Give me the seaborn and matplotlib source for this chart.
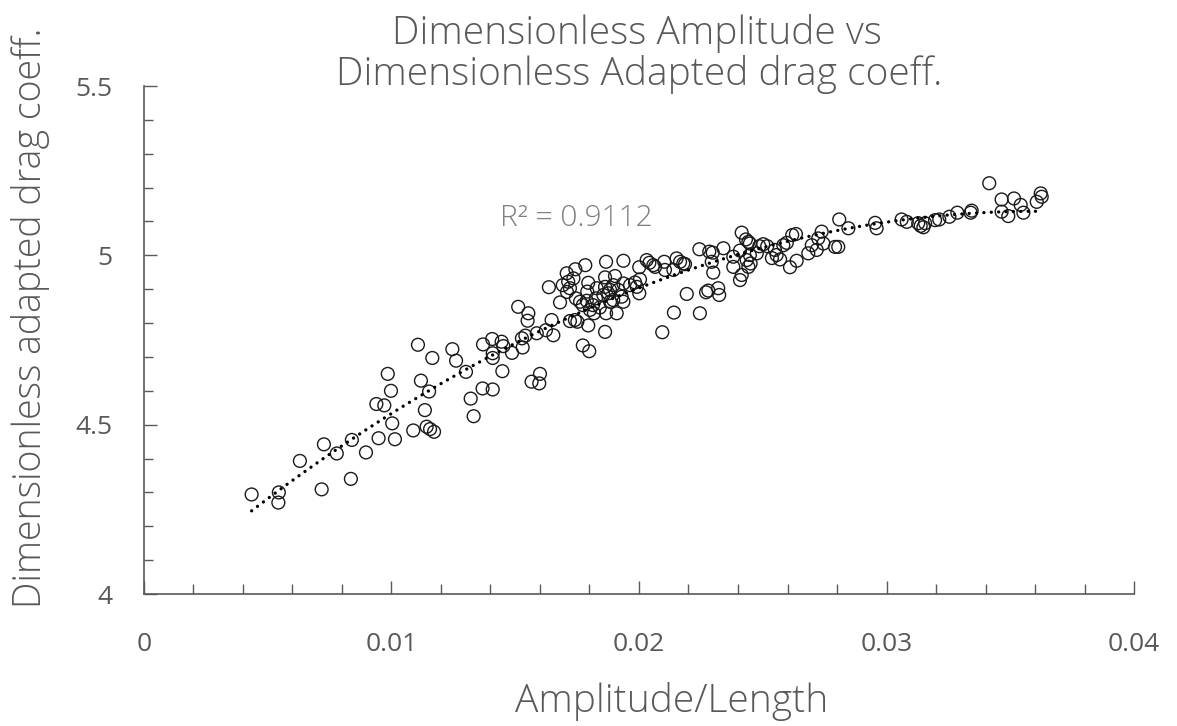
import numpy as np
import pandas as pd
import matplotlib
matplotlib.use("Agg")
import matplotlib.pyplot as plt
from matplotlib.ticker import MultipleLocator, FixedLocator
import seaborn as sns

# Amplitude/Length (dimensionless)
amp_len = [
    0.00435, 0.00545, 0.00543, 0.00630, 0.00718, 0.00727, 0.00779, 0.00836, 0.00840, 0.00897,
    0.00939, 0.00971, 0.00985, 0.00998, 0.00948, 0.01014, 0.01003, 0.01088, 0.01135, 0.01119,
    0.01152, 0.01107, 0.01165, 0.01142, 0.01156, 0.01172, 0.01246, 0.01261, 0.01301, 0.01320,
    0.01332, 0.01368, 0.01409, 0.01370, 0.01407, 0.01409, 0.01409, 0.01445, 0.01452, 0.01487,
    0.01448, 0.01512, 0.01553, 0.01550, 0.01527, 0.01541, 0.01530, 0.01587, 0.01624, 0.01647,
    0.01654, 0.01566, 0.01600, 0.01597, 0.01636, 0.01681, 0.01692, 0.01714, 0.01735, 0.01708,
    0.01721, 0.01741, 0.01751, 0.01762, 0.01773, 0.01789, 0.01795, 0.01791, 0.01795, 0.01773,
    0.01799, 0.01818, 0.01842, 0.01829, 0.01863, 0.01863, 0.01856, 0.01883, 0.01896, 0.01903,
    0.01910, 0.01743, 0.01783, 0.01721, 0.01709, 0.01745, 0.01802, 0.01826, 0.01814, 0.01867,
    0.01863, 0.01876, 0.01883, 0.01896, 0.01867, 0.01937, 0.01937, 0.01964, 0.01916, 0.01930,
    0.01937, 0.01984, 0.02004, 0.01991, 0.02001, 0.02001, 0.02031, 0.02042, 0.02058, 0.02065,
    0.02102, 0.02105, 0.02139, 0.02152, 0.02166, 0.02193, 0.02141, 0.02246, 0.02094, 0.02179,
    0.02244, 0.02186, 0.02284, 0.02298, 0.02294, 0.02341, 0.02300, 0.02271, 0.02280, 0.02320,
    0.02324, 0.02415, 0.02432, 0.02442, 0.02448, 0.02408, 0.02381, 0.02435, 0.02451, 0.02442,
    0.02448, 0.02381, 0.02415, 0.02408, 0.02476, 0.02486, 0.02502, 0.02518, 0.02549, 0.02556,
    0.02570, 0.02537, 0.02583, 0.02597, 0.02610, 0.02637, 0.02619, 0.02634, 0.02684, 0.02698,
    0.02718, 0.02724, 0.02745, 0.02792, 0.02805, 0.02738, 0.02809, 0.02846, 0.02954, 0.02960,
    0.03061, 0.03082, 0.03128, 0.03138, 0.03149, 0.03156, 0.03196, 0.03213, 0.03254, 0.03286,
    0.03340, 0.03344, 0.03415, 0.03465, 0.03465, 0.03492, 0.03515, 0.03542, 0.03553, 0.03607,
    0.03623, 0.03627,
]

# Dimensionless adapted drag coefficient
drag_coeff = [
    4.294, 4.300, 4.270, 4.393, 4.309, 4.442, 4.415, 4.340, 4.455, 4.418,
    4.561, 4.557, 4.650, 4.600, 4.460, 4.457, 4.504, 4.483, 4.543, 4.630,
    4.598, 4.736, 4.697, 4.494, 4.487, 4.479, 4.723, 4.689, 4.656, 4.577,
    4.525, 4.607, 4.604, 4.737, 4.753, 4.711, 4.697, 4.745, 4.732, 4.712,
    4.658, 4.848, 4.829, 4.807, 4.755, 4.763, 4.728, 4.770, 4.779, 4.809,
    4.764, 4.627, 4.650, 4.622, 4.906, 4.861, 4.912, 4.922, 4.932, 4.947,
    4.806, 4.809, 4.804, 4.863, 4.853, 4.866, 4.919, 4.893, 4.793, 4.734,
    4.717, 4.829, 4.846, 4.903, 4.935, 4.774, 4.883, 4.898, 4.912, 4.939,
    4.829, 4.959, 4.971, 4.903, 4.892, 4.873, 4.839, 4.873, 4.853, 4.981,
    4.907, 4.888, 4.863, 4.868, 4.829, 4.984, 4.917, 4.912, 4.898, 4.878,
    4.863, 4.920, 4.929, 4.907, 4.888, 4.965, 4.986, 4.978, 4.971, 4.966,
    4.981, 4.957, 4.957, 4.991, 4.981, 4.886, 4.831, 4.829, 4.773, 4.976,
    5.018, 4.974, 5.011, 5.008, 4.981, 5.021, 4.949, 4.891, 4.896, 4.903,
    4.883, 5.067, 5.047, 5.040, 5.035, 5.014, 4.996, 4.986, 4.976, 4.966,
    5.001, 4.966, 4.942, 4.927, 5.006, 5.027, 5.033, 5.027, 5.016, 5.001,
    4.988, 4.992, 5.030, 5.037, 4.965, 4.984, 5.060, 5.063, 5.006, 5.030,
    5.016, 5.050, 5.035, 5.025, 5.025, 5.070, 5.106, 5.080, 5.096, 5.080,
    5.106, 5.099, 5.095, 5.087, 5.083, 5.095, 5.104, 5.106, 5.114, 5.126,
    5.126, 5.132, 5.213, 5.165, 5.129, 5.116, 5.168, 5.149, 5.126, 5.158,
    5.183, 5.173,
]

r_squared_label = "R² = 0.9112"
title_lines = ["Dimensionless Amplitude vs", "Dimensionless Adapted drag coeff."]
x_label = "Amplitude/Length"
y_label = "Dimensionless adapted drag coeff."
x_ticks = [0, 0.01, 0.02, 0.03, 0.04]
x_tick_labels = ["0", "0.01", "0.02", "0.03", "0.04"]
y_ticks = [4, 4.5, 5, 5.5]
y_tick_labels = ["4", "4.5", "5", "5.5"]

df = pd.DataFrame({"amp_len": amp_len, "drag": drag_coeff})

sns.set_theme(style="white")
plt.rcParams["font.family"] = ["Open Sans", "DejaVu Sans"]

TEXT = "#595959"
AXIS = "#595959"

fig = plt.figure(figsize=(11.77, 7.26), dpi=100)
ax = fig.add_axes([0.1223, 0.1818, 0.9635 - 0.1223, 0.8815 - 0.1818])

sns.scatterplot(data=df, x="amp_len", y="drag", ax=ax, marker="o", s=85,
                facecolors="none", edgecolor="#1a1a1a", linewidth=1.0, legend=False)

# second-order polynomial trendline
sns.regplot(data=df, x="amp_len", y="drag", ax=ax, order=2, ci=None, scatter=False,
            line_kws={"color": "black", "linestyle": (0, (0.01, 2.2)), "linewidth": 2.4,
                      "dash_capstyle": "round"})

ax.set_xlim(0, 0.04)
ax.set_ylim(4, 5.5)

ax.xaxis.set_major_locator(FixedLocator(x_ticks))
ax.set_xticklabels(x_tick_labels)
ax.xaxis.set_minor_locator(MultipleLocator(0.002))
ax.yaxis.set_major_locator(FixedLocator(y_ticks))
ax.set_yticklabels(y_tick_labels)
ax.yaxis.set_minor_locator(MultipleLocator(0.1))

ax.tick_params(which="both", bottom=True, left=True, top=False, right=False)
ax.tick_params(axis="x", which="major", direction="in", length=9.4, width=1, color=AXIS,
               labelsize=19, labelcolor=TEXT, pad=27)
ax.tick_params(axis="x", which="minor", direction="in", length=7, width=1, color=AXIS)
ax.tick_params(axis="y", which="major", direction="in", length=9, width=1, color=AXIS,
               labelsize=19, labelcolor=TEXT, pad=23)
ax.tick_params(axis="y", which="minor", direction="in", length=6.8, width=1, color=AXIS)

for side in ("top", "right"):
    ax.spines[side].set_visible(False)
for side in ("left", "bottom"):
    ax.spines[side].set_color(AXIS)
    ax.spines[side].set_linewidth(1.2)

ax.set_xlabel("")
ax.set_ylabel("")
fig.text(0.571, 0.019, x_label, ha="center", va="baseline", fontsize=28,
         color=TEXT, fontweight="light")
fig.text(0.026, 0.563, y_label, ha="center", va="center", rotation=90, fontsize=27,
         color=TEXT, fontweight="light")

fig.text(0.541, 0.9545, title_lines[0], ha="center", va="center", fontsize=28,
         color=TEXT, fontweight="light")
fig.text(0.543, 0.8967, title_lines[1], ha="center", va="center", fontsize=28,
         color=TEXT, fontweight="light")

ax.text(0.01745, 5.11, r_squared_label, ha="center", va="center", fontsize=21.5,
        color="#808080", fontweight="light")

fig.savefig("out.png", dpi=100, facecolor="white")
